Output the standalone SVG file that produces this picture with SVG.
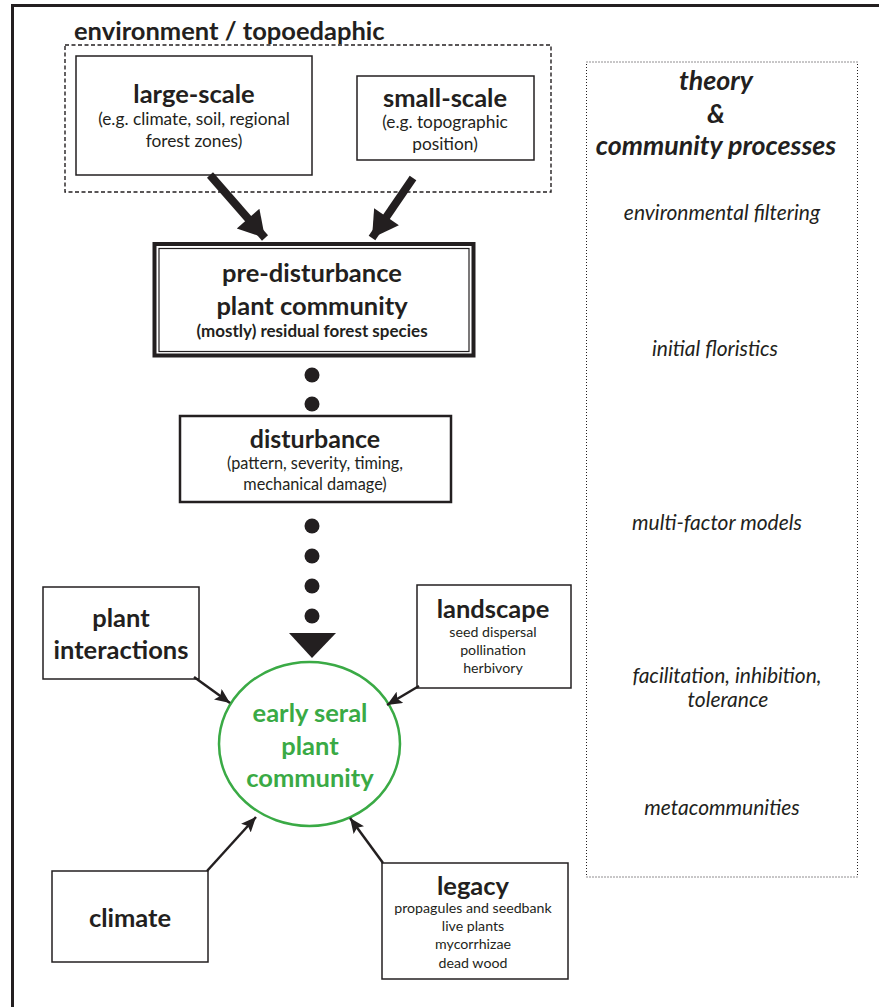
<svg xmlns="http://www.w3.org/2000/svg" width="879" height="1007" viewBox="0 0 879 1007">
<defs>
<style>
text{font-family:Lato,"Open Sans","Liberation Sans",sans-serif;fill:#231f20;text-anchor:middle}
.h{font-weight:bold;font-size:25.5px}
.h2{font-weight:bold;font-size:25.5px}
.s{font-size:17.3px}
.xs{font-size:14.2px}
.th{font-weight:bold;font-style:italic;font-size:26.8px}
.it{font-style:italic;font-size:21px}
.box{fill:#fff;stroke:#231f20;stroke-width:1.5}
.g{fill:#3aaa45}
.dot{fill:#231f20}
.thick{stroke:#231f20;stroke-width:8;fill:none}
.thin{stroke:#231f20;stroke-width:2.5;fill:none}
</style>
<marker id="bigHead" markerUnits="userSpaceOnUse" markerWidth="30" markerHeight="30" viewBox="0 0 24 28" refX="24" refY="14" orient="auto">
<path d="M0,0 L24,14 L0,28 Z" fill="#231f20"/>
</marker>
<marker id="smallHead" markerUnits="userSpaceOnUse" markerWidth="15" markerHeight="13" viewBox="0 0 15 13" refX="15" refY="6.5" orient="auto">
<path d="M0,0 L15,6.5 L0,13 L3,6.5 Z" fill="#231f20"/>
</marker>
</defs>
<rect width="879" height="1007" fill="#fff"/>
<path d="M12.5,1007 V5.5 H879" fill="none" stroke="#231f20" stroke-width="3"/>

<g id="environment">
<rect x="65" y="45" width="486" height="147" fill="none" stroke="#231f20" stroke-width="1.4" stroke-dasharray="4 2.5"/>
<text x="74" y="40" class="h" style="text-anchor:start">environment / topoedaphic</text>
</g>

<g id="large-scale">
<rect x="76" y="56" width="236" height="119" class="box"/>
<text x="194" y="103" class="h">large-scale</text>
<text x="194" y="125" class="s">(e.g. climate, soil, regional</text>
<text x="194" y="147" class="s">forest zones)</text>
</g>

<g id="small-scale">
<rect x="357" y="76" width="177" height="84" class="box"/>
<text x="445" y="107" class="h">small-scale</text>
<text x="445" y="128" class="s">(e.g. topographic</text>
<text x="445" y="150" class="s">position)</text>
</g>

<g id="theory">
<rect x="586.5" y="62" width="271" height="815" fill="none" stroke="#231f20" stroke-width="1" stroke-dasharray="1 2"/>
<text x="716" y="90" class="th">theory</text>
<text x="716" y="123" class="th">&amp;</text>
<text x="716" y="155" class="th">community processes</text>
<text x="722" y="220" class="it">environmental filtering</text>
<text x="715" y="356" class="it">initial floristics</text>
<text x="717" y="530" class="it">multi-factor models</text>
<text x="727" y="683" class="it">facilitation, inhibition,</text>
<text x="728" y="707" class="it">tolerance</text>
<text x="722" y="815" class="it">metacommunities</text>
</g>

<g id="pre-disturbance">
<rect x="154.5" y="244" width="319" height="111.5" fill="#fff" stroke="#231f20" stroke-width="4"/>
<rect x="159" y="248.5" width="310" height="103" fill="none" stroke="#231f20" stroke-width="1.2"/>
<text x="312" y="282" class="h">pre-disturbance</text>
<text x="312" y="315" class="h">plant community</text>
<text x="312" y="337" style="font-weight:bold;font-size:17px">(mostly) residual forest species</text>
</g>

<g id="disturbance">
<rect x="180" y="416" width="271" height="86" fill="#fff" stroke="#231f20" stroke-width="2.5"/>
<text x="315" y="448" style="font-weight:bold;font-size:25px">disturbance</text>
<text x="315" y="469" style="font-size:16.3px">(pattern, severity, timing,</text>
<text x="315" y="490" style="font-size:16.3px">mechanical damage)</text>
</g>

<g id="plant-interactions">
<rect x="43" y="587" width="156" height="92" class="box"/>
<text x="121" y="627" class="h2">plant</text>
<text x="121" y="659" class="h2">interactions</text>
</g>

<g id="landscape">
<rect x="417" y="585" width="154" height="103" class="box"/>
<text x="493" y="618" class="h2">landscape</text>
<text x="493" y="637" class="xs">seed dispersal</text>
<text x="493" y="655" class="xs">pollination</text>
<text x="493" y="673" class="xs">herbivory</text>
</g>

<g id="early-seral">
<ellipse cx="309.5" cy="744" rx="90.5" ry="82" fill="#fff" stroke="#3aaa45" stroke-width="2.5"/>
<text x="310" y="722" class="h2 g">early seral</text>
<text x="310" y="755" class="h2 g">plant</text>
<text x="310" y="787" class="h2 g">community</text>
</g>

<g id="climate">
<rect x="52" y="871" width="156" height="91" class="box"/>
<text x="130" y="927" class="h2">climate</text>
</g>

<g id="legacy">
<rect x="382" y="863" width="186" height="116" class="box"/>
<text x="473" y="895" class="h2">legacy</text>
<text x="473" y="913" class="xs">propagules and seedbank</text>
<text x="473" y="931" class="xs">live plants</text>
<text x="473" y="949" class="xs">mycorrhizae</text>
<text x="473" y="968" class="xs">dead wood</text>
</g>

<g id="connectors">
<line x1="210" y1="175" x2="265" y2="238" class="thick" marker-end="url(#bigHead)"/>
<line x1="413" y1="178" x2="372" y2="238" class="thick" marker-end="url(#bigHead)"/>
<circle cx="312" cy="375" r="7.5" class="dot"/>
<circle cx="312" cy="404" r="7.5" class="dot"/>
<circle cx="312" cy="526" r="7.5" class="dot"/>
<circle cx="312" cy="556" r="7.5" class="dot"/>
<circle cx="312" cy="586" r="7.5" class="dot"/>
<circle cx="312" cy="616" r="7.5" class="dot"/>
<path d="M289,633 L336,633 L312,658 Z" class="dot"/>
<line x1="194" y1="677" x2="230" y2="703" class="thin" marker-end="url(#smallHead)"/>
<line x1="419" y1="686" x2="387" y2="705" class="thin" marker-end="url(#smallHead)"/>
<line x1="207" y1="871" x2="256" y2="817" class="thin" marker-end="url(#smallHead)"/>
<line x1="383" y1="863" x2="350" y2="818" class="thin" marker-end="url(#smallHead)"/>
</g>
</svg>
